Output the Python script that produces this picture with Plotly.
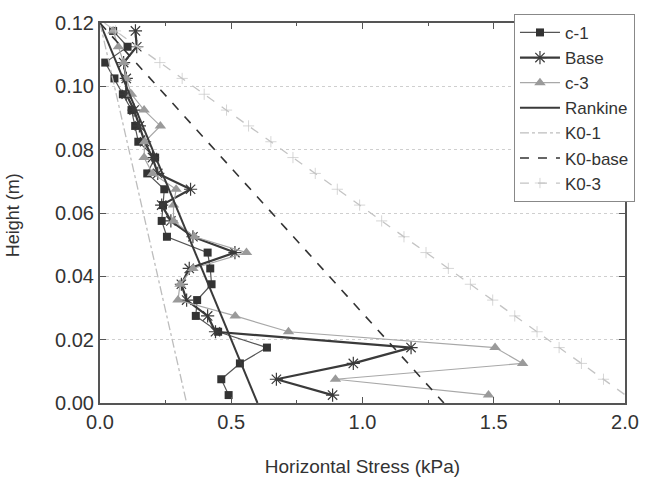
import plotly.graph_objects as go

# ---- data ----
heights = [0.1175, 0.1125, 0.1075, 0.1025, 0.0975, 0.0925, 0.0875, 0.0825,
           0.0775, 0.0725, 0.0675, 0.0625, 0.0575, 0.0525, 0.0475, 0.0425,
           0.0375, 0.0325, 0.0275, 0.0225, 0.0175, 0.0125, 0.0075, 0.0025]

c1_x = [0.05, 0.105, 0.02, 0.055, 0.087, 0.12, 0.134, 0.146,
        0.21, 0.18, 0.245, 0.24, 0.235, 0.255, 0.41, 0.42,
        0.425, 0.37, 0.365, 0.45, 0.636, 0.533, 0.462, 0.49]

base_x = [0.135, 0.14, 0.09, 0.10, 0.10, 0.13, 0.15, 0.17,
          0.20, 0.22, 0.345, 0.235, 0.27, 0.354, 0.514, 0.34,
          0.31, 0.33, 0.41, 0.44, 1.185, 0.965, 0.672, 0.886]

c3_x = [0.05, 0.07, 0.09, 0.10, 0.12, 0.168, 0.23, 0.17,
        0.168, 0.20, 0.29, 0.28, 0.28, 0.36, 0.558, 0.354,
        0.305, 0.297, 0.515, 0.718, 1.505, 1.61, 0.897, 1.48]

rankine_x = [0.0, 0.60]
rankine_y = [0.12, 0.0]

k01_x = [0.0, 0.33]
k01_y = [0.12, 0.0]

k0base_x = [0.0, 1.31]
k0base_y = [0.12, 0.0]

k03_x = [0.017, 0.059, 0.144, 0.228, 0.313, 0.397, 0.482, 0.566, 0.651, 0.735,
         0.820, 0.904, 0.989, 1.073, 1.158, 1.242, 1.327, 1.411, 1.496,
         1.580, 1.665, 1.749, 1.834, 1.918, 2.0]
k03_y = [0.12, 0.1175, 0.1125, 0.1075, 0.1025, 0.0975, 0.0925, 0.0875, 0.0825,
         0.0775, 0.0725, 0.0675, 0.0625, 0.0575, 0.0525, 0.0475, 0.0425,
         0.0375, 0.0325, 0.0275, 0.0225, 0.0175, 0.0125, 0.0075, 0.0026]
k03_msize = [0] + [8] * 23 + [0]

x_ticks = [0.0, 0.5, 1.0, 1.5, 2.0]
y_ticks = [0.00, 0.02, 0.04, 0.06, 0.08, 0.10, 0.12]

FONT = "Liberation Sans, Arial, sans-serif"

fig = go.Figure()

fig.add_trace(go.Scatter(
    x=c1_x, y=heights, name="c-1", mode="lines+markers", legendgroup="a",
    line=dict(color="#555555", width=1.2),
    marker=dict(symbol="square", size=8, color="#333333")))

fig.add_trace(go.Scatter(
    x=base_x, y=heights, name="Base", mode="lines+markers", legendgroup="b",
    line=dict(color="#3a3a3a", width=2.2),
    marker=dict(symbol="asterisk-open", size=11,
                line=dict(color="#333333", width=1.2))))

fig.add_trace(go.Scatter(
    x=c3_x, y=heights, name="c-3", mode="lines+markers", legendgroup="c",
    line=dict(color="#a8a8a8", width=1.2),
    marker=dict(symbol="triangle-up", size=10, color="#9a9a9a")))

fig.add_trace(go.Scatter(
    x=rankine_x, y=rankine_y, name="Rankine", mode="lines", legendgroup="d",
    line=dict(color="#3a3a3a", width=2)))

fig.add_trace(go.Scatter(
    x=k01_x, y=k01_y, name="K0-1", mode="lines", legendgroup="e",
    line=dict(color="#bdbdbd", width=1.3, dash="dashdot")))

fig.add_trace(go.Scatter(
    x=k0base_x, y=k0base_y, name="K0-base", mode="lines", legendgroup="f",
    line=dict(color="#333333", width=1.6, dash="dash")))

fig.add_trace(go.Scatter(
    x=k03_x, y=k03_y, name="K0-3", mode="lines+markers", legendgroup="g",
    line=dict(color="#c4c4c4", width=1.3, dash="dash"),
    marker=dict(symbol="cross-thin-open", size=k03_msize,
                line=dict(color="#b0b0b0", width=1))))

fig.update_layout(
    width=651, height=488,
    margin=dict(l=100, r=14, t=13, b=85),
    paper_bgcolor="white", plot_bgcolor="white",
    font=dict(family=FONT, size=20, color="#333333"),
    showlegend=True,
    legend=dict(x=1.019, xanchor="right", y=1.024, yanchor="top",
                bgcolor="white", bordercolor="#888888", borderwidth=1,
                font=dict(size=17, color="#333333"),
                tracegroupgap=0, itemwidth=40),
    xaxis=dict(range=[0, 2.0], tickvals=x_ticks, tickformat=".1f",
               showgrid=False, zeroline=False,
               showline=True, linecolor="#555555", linewidth=2, mirror="ticks",
               ticks="inside", ticklen=6, tickcolor="#555555",
               minor=dict(dtick=0.25, ticks="inside", ticklen=3, tickcolor="#555555"),
               tickfont=dict(size=20),
               title=dict(text="Horizontal Stress (kPa)", font=dict(size=19), standoff=28)),
    yaxis=dict(range=[0, 0.12], tickvals=y_ticks, tickformat=".2f",
               showgrid=True, gridcolor="#cfcfcf", griddash="dot", gridwidth=1,
               zeroline=False,
               showline=True, linecolor="#555555", linewidth=2, mirror="ticks",
               ticks="inside", ticklen=6, tickcolor="#555555",
               tickfont=dict(size=20)),
)

fig.add_annotation(text="Height (m)", xref="paper", yref="paper",
                   x=-0.165, y=0.495, xanchor="center", yanchor="middle",
                   textangle=-90, showarrow=False,
                   font=dict(size=18, color="#333333"))

fig.write_html("out.html")
